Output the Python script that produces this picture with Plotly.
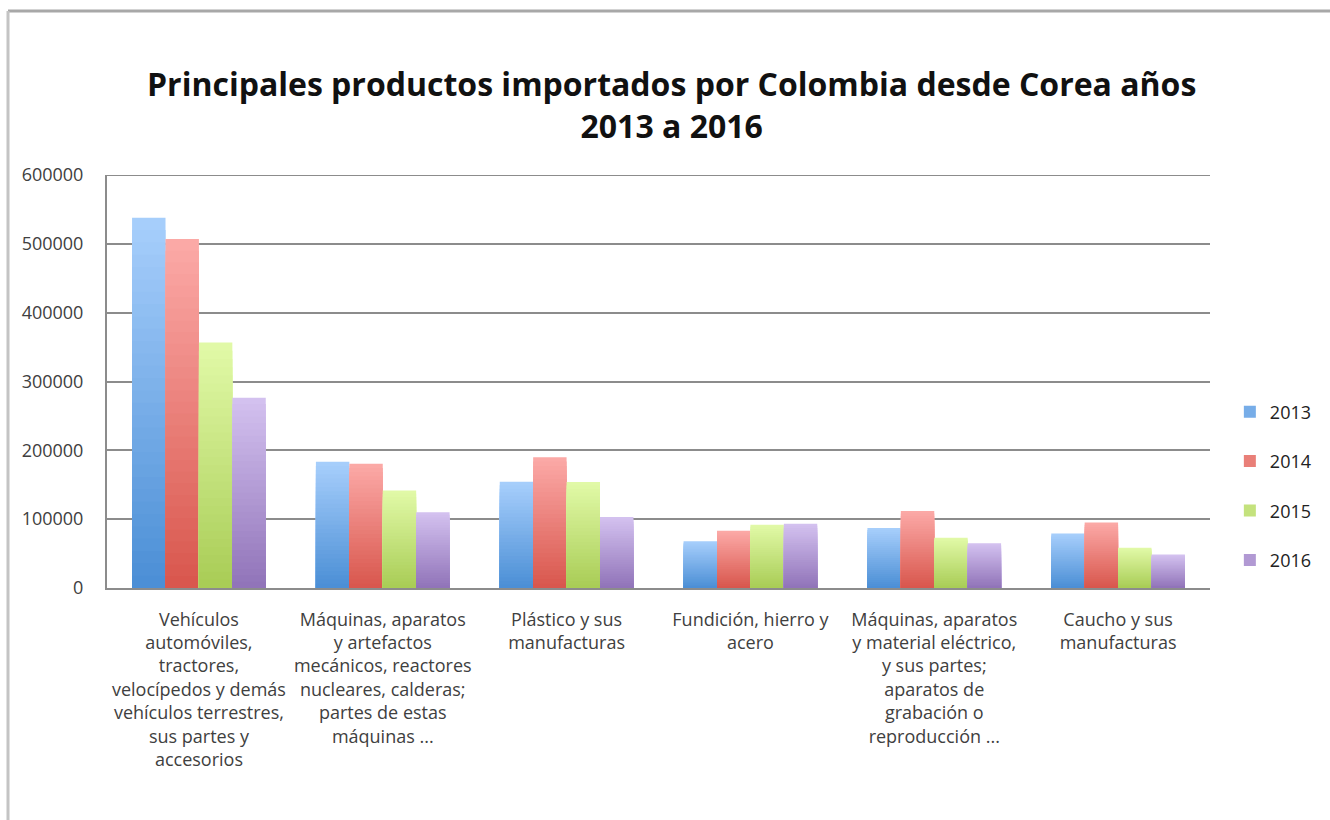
import plotly.graph_objects as go

categories = [
    "Vehículos<br>automóviles,<br>tractores,<br>velocípedos y demás<br>vehículos terrestres,<br>sus partes y<br>accesorios",
    "Máquinas, aparatos<br>y artefactos<br>mecánicos, reactores<br>nucleares, calderas;<br>partes de estas<br>máquinas ...",
    "Plástico y sus<br>manufacturas",
    "Fundición, hierro y<br>acero",
    "Máquinas, aparatos<br>y material eléctrico,<br>y sus partes;<br>aparatos de<br>grabación o<br>reproducción ...",
    "Caucho y sus<br>manufacturas",
]
years = ["2013", "2014", "2015", "2016"]
v2013 = [538000, 183500, 154500, 68000, 87000, 79000]
v2014 = [507000, 180500, 190000, 83000, 112000, 95000]
v2015 = [356500, 141500, 154000, 92000, 73000, 58500]
v2016 = [276500, 110000, 103000, 93500, 65000, 48500]
series = [v2013, v2014, v2015, v2016]
y_ticks = [0, 100000, 200000, 300000, 400000, 500000, 600000]

# (bottom colour, top colour) of each series' vertical gradient
grad = [
    ((74, 142, 213), (168, 207, 252)),
    ((216, 86, 76), (252, 170, 168)),
    ((168, 204, 85), (226, 250, 168)),
    ((144, 115, 184), (212, 194, 240)),
]

FONT = "Open Sans, sans-serif"
N = 30
bar_w = 0.1818
fig = go.Figure()
for i, (name, vals) in enumerate(zip(years, series)):
    lo, hi = grad[i]
    offset = -2 * bar_w + i * bar_w
    for k in range(N):
        frac = (N - k) / N
        t = frac - 0.5 / N
        c = tuple(round(lo[j] + (hi[j] - lo[j]) * t) for j in range(3))
        fig.add_trace(go.Bar(
            x=categories,
            y=[v * frac for v in vals],
            name=name,
            legendgroup=name,
            showlegend=(k == N // 2),
            marker=dict(color="rgb(%d,%d,%d)" % c, line=dict(width=0)),
            width=bar_w,
            offset=offset,
            hoverinfo="skip",
        ))

fig.update_layout(
    width=1330, height=820,
    margin=dict(l=107, r=120, t=175, b=232),
    paper_bgcolor="white", plot_bgcolor="white",
    barmode="overlay",
    font=dict(family=FONT, color="#404040"),
    title=dict(
        text="<b>Principales productos importados por Colombia desde Corea años<br>2013 a 2016</b>",
        x=0.505, xanchor="center", y=1 - 96 / 820, yanchor="middle",
        font=dict(family=FONT, size=32, color="#111111"),
    ),
    legend=dict(
        x=1.018, xanchor="left", y=0.247, yanchor="middle",
        font=dict(size=18, color="#222222"),
        tracegroupgap=23, bgcolor="rgba(0,0,0,0)",
    ),
    showlegend=True,
)
fig.update_xaxes(
    tickangle=0, tickfont=dict(size=18, color="#404040"),
    showline=True, linecolor="#8c8c8c", linewidth=2,
    showgrid=False, ticks="", ticklabelstandoff=14,
)
fig.update_yaxes(
    range=[0, 600000], tickvals=y_ticks, ticktext=[str(t) for t in y_ticks],
    tickfont=dict(size=18, color="#404040"),
    showgrid=True, gridcolor="#8c8c8c", gridwidth=2,
    showline=True, linecolor="#8c8c8c", linewidth=2,
    zeroline=False, ticks="", ticklabelstandoff=18,
)
# top gridline at the upper end of the range
fig.add_shape(type="line", xref="paper", yref="y", x0=0, x1=1,
              y0=y_ticks[-1], y1=y_ticks[-1], line=dict(color="#8c8c8c", width=2))
# outer chart frame (left and top edges visible)
fig.add_shape(type="line", xref="paper", yref="paper",
              x0=(8 - 107) / 1103, x1=1.2, y0=1 + (175 - 11) / 413, y1=1 + (175 - 11) / 413,
              line=dict(color="#a8a8a8", width=3))
fig.add_shape(type="line", xref="paper", yref="paper",
              x0=(8 - 107) / 1103, x1=(8 - 107) / 1103, y0=1 + (175 - 11) / 413, y1=-0.7,
              line=dict(color="#c4c4c4", width=3))
fig.write_html("out.html")
